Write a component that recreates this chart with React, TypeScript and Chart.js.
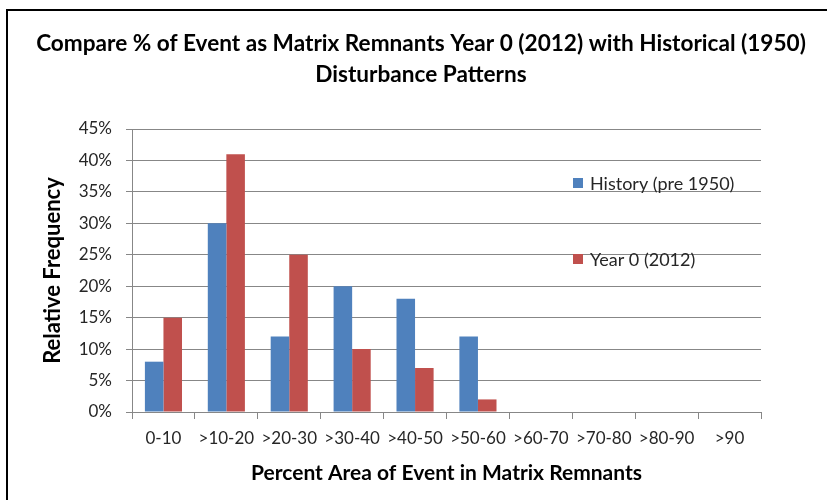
import React, { useEffect, useRef } from "react";
import { Chart, registerables } from "chart.js";

Chart.register(...registerables);

const categories = ["0-10", ">10-20", ">20-30", ">30-40", ">40-50", ">50-60", ">60-70", ">70-80", ">80-90", ">90"];
const historyValues = [8, 30, 12, 20, 18, 12, 0, 0, 0, 0];
const year0Values = [15, 41, 25, 10, 7, 2, 0, 0, 0, 0];
const seriesLabels = ["History (pre 1950)", "Year 0 (2012)"];
const seriesColors = ["#4F81BD", "#C0504D"];
const titleLines = ["Compare % of Event as Matrix Remnants Year 0 (2012) with Historical (1950)", "Disturbance Patterns"];
const yTitle = "Relative Frequency";
const xTitle = "Percent Area of Event in Matrix Remnants";

const FONT = "Lato, 'Open Sans', sans-serif";
const GRID = "#878787";

const framePlugin = {
  id: "frame",
  beforeDraw(chart: any) {
    const { ctx, width, height } = chart;
    ctx.save();
    ctx.fillStyle = "#ffffff";
    ctx.fillRect(0, 0, width, height);
    ctx.restore();
  },
  afterDraw(chart: any) {
    const { ctx, width, height } = chart;
    ctx.save();
    ctx.strokeStyle = "#000000";
    ctx.lineWidth = 2;
    ctx.beginPath();
    ctx.moveTo(7, height);
    ctx.lineTo(7, 10);
    ctx.lineTo(width, 10);
    ctx.stroke();
    ctx.restore();
  },
};

const legendPlugin = {
  id: "customLegend",
  afterDatasetsDraw(chart: any) {
    const { ctx } = chart;
    const ys = [183, 259];
    ctx.save();
    ctx.font = `18px ${FONT}`;
    ctx.textBaseline = "middle";
    ctx.textAlign = "left";
    chart.data.datasets.forEach((ds: any, i: number) => {
      const y = ys[i];
      ctx.fillStyle = ds.backgroundColor;
      ctx.fillRect(573, y - 5, 10, 10);
      ctx.fillStyle = "#262626";
      ctx.fillText(ds.label, 590, y + 1);
    });
    ctx.restore();
  },
};

export default function App() {
  const canvasRef = useRef<HTMLCanvasElement | null>(null);

  useEffect(() => {
    const canvas = canvasRef.current;
    if (!canvas) return;
    const chart = new Chart(canvas, {
      type: "bar",
      data: {
        labels: categories,
        datasets: [
          { label: seriesLabels[0], data: historyValues, backgroundColor: seriesColors[0], borderWidth: 0 },
          { label: seriesLabels[1], data: year0Values, backgroundColor: seriesColors[1], borderWidth: 0 },
        ],
      },
      options: {
        responsive: false,
        animation: false,
        devicePixelRatio: 1,
        layout: { padding: { left: 15, right: 0, top: 0, bottom: 0 } },
        datasets: { bar: { categoryPercentage: 0.59, barPercentage: 1.0 } },
        plugins: {
          legend: { display: false },
          tooltip: { enabled: false },
          title: {
            display: true,
            text: titleLines,
            color: "#000000",
            font: { family: FONT, size: 22.6, weight: "bold", lineHeight: 31 / 22.6 },
            padding: { top: 28.5, bottom: 38.5 },
          },
        },
        scales: {
          x: {
            grid: { display: true, drawOnChartArea: false, drawTicks: true, tickLength: 7, color: GRID, offset: true },
            border: { display: true, color: GRID, width: 1 },
            ticks: { color: "#262626", font: { family: FONT, size: 17 }, padding: 9, maxRotation: 0, autoSkip: false },
            title: {
              display: true,
              text: xTitle,
              color: "#000000",
              font: { family: FONT, size: 21, weight: "bold" },
              padding: { top: 0, bottom: 14.4 },
            },
            afterFit: (s: any) => { s.height = 88; },
          },
          y: {
            min: 0,
            max: 45,
            ticks: {
              stepSize: 5,
              color: "#262626",
              font: { family: FONT, size: 17 },
              padding: 14,
              callback: (v: any) => `${v}%`,
            },
            grid: { color: GRID, tickLength: 6, drawTicks: true },
            border: { display: true, color: GRID, width: 1 },
            title: {
              display: true,
              text: yTitle,
              color: "#000000",
              font: { family: FONT, size: 22, weight: "bold" },
              padding: { top: 24.8, bottom: 0 },
            },
            afterFit: (s: any) => { s.width = 117; },
          },
          yRight: {
            type: "linear",
            position: "right",
            display: true,
            grid: { display: false },
            border: { display: false },
            ticks: { display: false },
            afterFit: (s: any) => { s.width = 66; },
          },
        },
      },
      plugins: [framePlugin, legendPlugin],
    });
    return () => chart.destroy();
  }, []);

  return (
    <div style={{ position: "fixed", left: 0, top: 0, width: 827, height: 500, background: "#fff" }}>
      <canvas ref={canvasRef} width={827} height={500} style={{ display: "block" }} />
    </div>
  );
}
